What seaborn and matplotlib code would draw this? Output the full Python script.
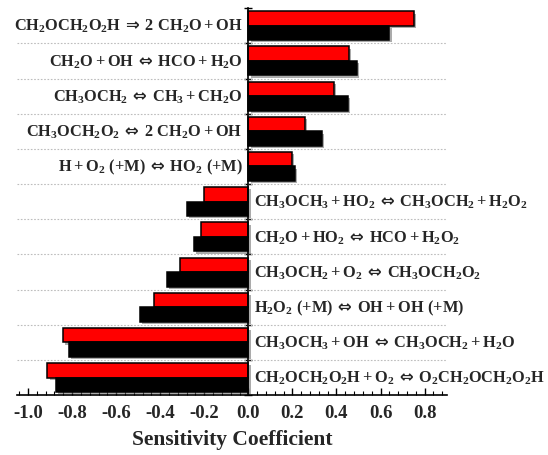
import numpy as np
import pandas as pd
import matplotlib
matplotlib.use("Agg")
import matplotlib.pyplot as plt
import matplotlib.patheffects as pe
from matplotlib.ticker import AutoMinorLocator
import seaborn as sns

# Reactions (top to bottom) and their sensitivity coefficients
EQ = r"\:\mathsf{\Leftrightarrow}\:"
RA = r"\:\mathsf{\Rightarrow}\:"
reactions = [
    rf"$CH_2OCH_2O_2H{RA}2\ CH_2O + OH$",
    rf"$CH_2O + OH{EQ}HCO + H_2O$",
    rf"$CH_3OCH_2{EQ}CH_3 + CH_2O$",
    rf"$CH_3OCH_2O_2{EQ}2\ CH_2O + OH$",
    rf"$H + O_2\ (+M){EQ}HO_2\ (+M)$",
    rf"$CH_3OCH_3 + HO_2{EQ}CH_3OCH_2 + H_2O_2$",
    rf"$CH_2O + HO_2{EQ}HCO + H_2O_2$",
    rf"$CH_3OCH_2 + O_2{EQ}CH_3OCH_2O_2$",
    rf"$H_2O_2\ (+M){EQ}OH + OH\ (+M)$",
    rf"$CH_3OCH_3 + OH{EQ}CH_3OCH_2 + H_2O$",
    rf"$CH_2OCH_2O_2H + O_2{EQ}O_2CH_2OCH_2O_2H$",
]
sens_red = [0.750, 0.455, 0.390, 0.258, 0.198, -0.200, -0.213, -0.311, -0.427, -0.840, -0.912]
sens_black = [0.640, 0.492, 0.451, 0.334, 0.212, -0.278, -0.248, -0.369, -0.492, -0.813, -0.874]
series = ["Case 1", "Case 2"]
colors = ["#ff0000", "#000000"]
xtick_values = [-1.0, -0.8, -0.6, -0.4, -0.2, 0.0, 0.2, 0.4, 0.6, 0.8]

sns.set_theme(style="white")
plt.rcParams["font.family"] = ["Liberation Serif", "DejaVu Serif"]
plt.rcParams["font.weight"] = "bold"
plt.rcParams["mathtext.fontset"] = "custom"
plt.rcParams["mathtext.rm"] = "Liberation Serif:bold"
plt.rcParams["mathtext.it"] = "Liberation Serif:bold"
plt.rcParams["mathtext.bf"] = "Liberation Serif:bold"
plt.rcParams["mathtext.sf"] = "DejaVu Sans"
plt.rcParams["mathtext.fallback"] = "stix"
plt.rcParams["axes.unicode_minus"] = False

df = pd.DataFrame({
    "reaction": reactions * 2,
    "series": [series[0]] * len(reactions) + [series[1]] * len(reactions),
    "value": sens_red + sens_black,
})

fig = plt.figure(figsize=(5.48, 4.56), dpi=100)
ax = fig.add_axes([0.031, 0.131, 0.784, 0.849])

sns.barplot(data=df, x="value", y="reaction", hue="series", order=reactions,
            hue_order=series, palette=colors, saturation=1, orient="h", width=0.82,
            edgecolor="black", linewidth=1.1, legend=False, ax=ax, zorder=3)

shadow = [pe.SimplePatchShadow(offset=(1.6, -1.6), shadow_rgbFace=(0.45, 0.45, 0.45), alpha=0.6),
          pe.Normal()]
for p in ax.patches:
    p.set_path_effects(shadow)

n = len(reactions)
ax.set_xlim(-1.05, 0.9)
ax.set_ylim(n - 0.5, -0.5)

# dotted separators between reactions
for b in np.arange(0.5, n - 0.5, 1.0):
    ax.axhline(b, color="#bdbdbd", linestyle=(0, (1.5, 1.5)), linewidth=0.8, zorder=1)

# reaction labels beside the zero line
for i, (lab, v) in enumerate(zip(reactions, sens_red)):
    if v >= 0:
        ax.annotate(lab, xy=(0, i), xytext=(-4, 0), textcoords="offset points",
                    ha="right", va="center", fontsize=11.8, zorder=5)
    else:
        ax.annotate(lab, xy=(0, i), xytext=(4, 0), textcoords="offset points",
                    ha="left", va="center", fontsize=11.8, zorder=5)

for s in ["top", "right"]:
    ax.spines[s].set_visible(False)
ax.spines["left"].set_position(("data", 0))
ax.spines["left"].set_zorder(4)
for s in ["left", "bottom"]:
    ax.spines[s].set_color("black")
    ax.spines[s].set_linewidth(1.2)

ax.set_yticks(np.arange(-0.5, n, 1.0))
ax.set_yticklabels([])
ax.tick_params(axis="y", direction="inout", length=6, width=1.0, color="black", left=True)

ax.set_xticks(xtick_values)
ax.set_xticklabels([f"{t:.1f}" for t in xtick_values], fontweight="bold")
ax.xaxis.set_minor_locator(AutoMinorLocator(5))
ax.tick_params(axis="x", which="major", direction="in", length=5, width=1.0,
               color="black", bottom=True, labelsize=13.5, pad=6)
ax.tick_params(axis="x", which="minor", direction="in", length=3, width=0.8,
               color="black", bottom=True)

ax.set_xlabel("Sensitivity Coefficient", fontsize=15.5, fontweight="bold", labelpad=6)
ax.set_ylabel("")
ax.grid(False)

fig.savefig("out.png", dpi=100)
